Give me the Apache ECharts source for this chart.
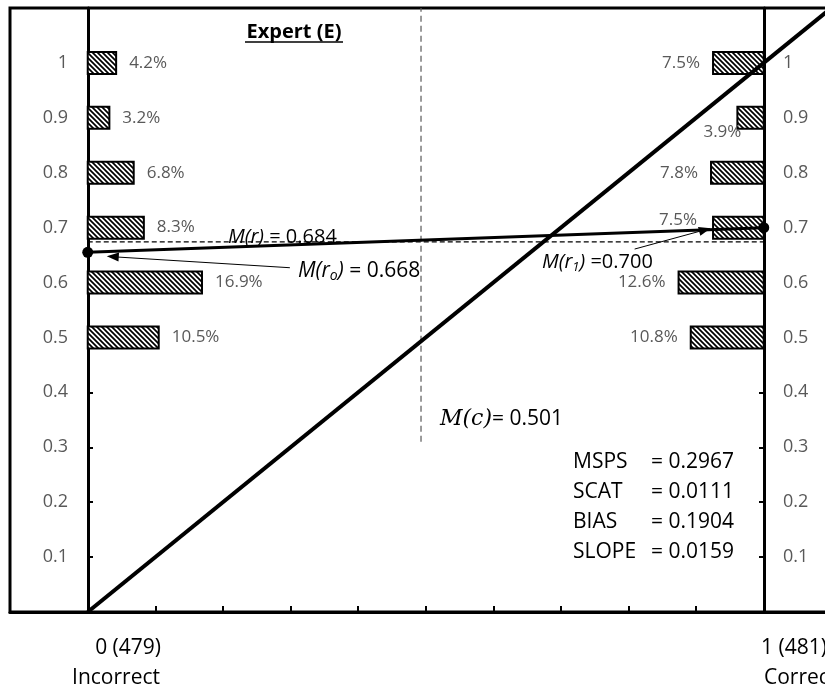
<!DOCTYPE html>
<html>
<head>
<meta charset="utf-8">
<script src="https://cdn.jsdelivr.net/npm/echarts@6/dist/echarts.min.js"></script>
<style>
  html, body { margin: 0; padding: 0; background: #fff; }
  #main { width: 825px; height: 691px; }
</style>
</head>
<body>
<div id="main"></div>
<script>
"use strict";
// forecast probability levels that carry a bar
const probLevels = [1, 0.9, 0.8, 0.7, 0.6, 0.5];
// share of forecasts (%) at each level, outcome 0 and outcome 1
const incorrectPct = [4.2, 3.2, 6.8, 8.3, 16.9, 10.5];
const correctPct = [7.5, 3.9, 7.8, 7.5, 12.6, 10.8];
// axis ticks
const yTickValues = [0.1, 0.2, 0.3, 0.4, 0.5, 0.6, 0.7, 0.8, 0.9, 1];
const xTickValues = [0.1, 0.2, 0.3, 0.4, 0.5, 0.6, 0.7, 0.8, 0.9];
const xCatLabels = ['0 (479)', '1 (481)'];
const xCatNames = ['Incorrect', 'Correct'];
// means as drawn
const meanR0 = 0.655;
const meanR1 = 0.700;
const meanR = 0.674;
const meanC = 0.493;
const meanCLow = 0.31;
// stats block
const statNames = ['MSPS', 'SCAT', 'BIAS', 'SLOPE'];
const statValues = ['0.2967', '0.0111', '0.1904', '0.0159'];

const GRAY = '#595959';
const FONT = '"Open Sans", sans-serif';

// hatch fill for the bars
function makeHatch() {
    const s = 5;
    const c = document.createElement('canvas');
    c.width = s; c.height = s;
    const g = c.getContext('2d');
    g.fillStyle = '#fff';
    g.fillRect(0, 0, s, s);
    g.strokeStyle = '#000';
    g.lineWidth = 1.7;
    g.beginPath();
    g.moveTo(-1, -1); g.lineTo(s + 1, s + 1);
    g.moveTo(-1, s - 1); g.lineTo(1, s + 1);
    g.moveTo(s - 1, -1); g.lineTo(s + 1, 1);
    g.stroke();
    return c;
}
const hatch = { image: makeHatch(), repeat: 'repeat' };

let barData = [];
for (let i = 0; i < probLevels.length; i++) {
    barData.push([probLevels[i], incorrectPct[i], 0, i]);
    barData.push([probLevels[i], correctPct[i], 1, i]);
}
// label nudges for the two crowded right-side labels
const labelNudge = { '1:1': [17, 14], '1:3': [-3, -7] };

function renderBar(params, api) {
    const y = api.value(0), p = api.value(1) / 100, side = api.value(2), idx = api.value(3);
    const x0 = side === 0 ? 0 : 1 - p;
    const x1 = side === 0 ? p : 1;
    const a = api.coord([x0, y]);
    const b = api.coord([x1, y]);
    const h = 22;
    const nudge = labelNudge[side + ':' + idx] || [0, 0];
    const tx = side === 0 ? b[0] + 13 : a[0] - 13;
    return {
        type: 'group',
        children: [{
            type: 'rect',
            shape: { x: a[0], y: a[1] - h / 2, width: b[0] - a[0], height: h },
            style: { fill: hatch, stroke: '#000', lineWidth: 2 }
        }, {
            type: 'text',
            x: tx + nudge[0],
            y: a[1] + nudge[1],
            style: {
                text: api.value(1).toFixed(1) + '%',
                fill: GRAY, font: '17px ' + FONT,
                align: side === 0 ? 'left' : 'right', verticalAlign: 'middle'
            }
        }]
    };
}

function yLabel(v) {
    if (v < 0.05 || v > 1.05) return '';
    return String(parseFloat(v.toFixed(1)));
}

let myChart = echarts.init(document.getElementById('main'));

const italic = { fontStyle: 'italic', fontSize: 20, fontFamily: FONT, fill: '#000' };
const plain = { fontSize: 20, fontFamily: FONT, fill: '#000' };

let graphics = [
    { type: 'text', x: 294, y: 32, style: { text: 'Expert (E)', font: 'bold 20px ' + FONT, fill: '#000', align: 'center', verticalAlign: 'middle' } },
    { type: 'line', shape: { x1: 245, y1: 42, x2: 343, y2: 42 }, style: { stroke: '#000', lineWidth: 1.5 } },
    { type: 'text', x: 228, y: 237, style: { text: '{i|M(r)}{n| = 0.684}', verticalAlign: 'middle', rich: { i: italic, n: plain } } },
    { type: 'text', x: 298, y: 271, style: { text: '{i|M(r}{s|o}{i|)}{n| = 0.668}', verticalAlign: 'middle',
        rich: { i: Object.assign({}, italic, { fontSize: 21 }), s: { fontStyle: 'italic', fontSize: 14, fontFamily: FONT, padding: [10, 0, 0, 0] }, n: Object.assign({}, plain, { fontSize: 21 }) } } },
    { type: 'text', x: 542, y: 262, style: { text: '{i|M(r}{s|1}{i|)}{n| =0.700}', verticalAlign: 'middle',
        rich: { i: italic, s: { fontStyle: 'italic', fontSize: 13, fontFamily: FONT, padding: [10, 0, 0, 0] }, n: plain } } },
    { type: 'text', x: 440, y: 419, style: { text: '{i|M(c)}{n|= 0.501}', verticalAlign: 'middle',
        rich: { i: { fontStyle: 'italic', fontSize: 22, fontFamily: '"DejaVu Serif", serif', fill: '#000' }, n: { fontSize: 21, fontFamily: FONT, fill: '#000' } } } }
];
for (let i = 0; i < statNames.length; i++) {
    graphics.push({ type: 'text', x: 573, y: 462 + i * 30, style: { text: statNames[i], font: '21px ' + FONT, fill: '#000', verticalAlign: 'middle' } });
    graphics.push({ type: 'text', x: 651, y: 462 + i * 30, style: { text: '= ' + statValues[i], font: '21px ' + FONT, fill: '#000', verticalAlign: 'middle' } });
}
graphics.push({ type: 'text', x: 161, y: 648, style: { text: xCatLabels[0], font: '21px ' + FONT, fill: '#000', align: 'right', verticalAlign: 'middle' } });
graphics.push({ type: 'text', x: 160, y: 678, style: { text: xCatNames[0], font: '21px ' + FONT, fill: '#000', align: 'right', verticalAlign: 'middle' } });
graphics.push({ type: 'text', x: 761, y: 648, style: { text: xCatLabels[1], font: '21px ' + FONT, fill: '#000', align: 'left', verticalAlign: 'middle' } });
graphics.push({ type: 'text', x: 764, y: 678, style: { text: xCatNames[1], font: '21px ' + FONT, fill: '#000', align: 'left', verticalAlign: 'middle' } });

const yAxisBase = {
    type: 'value', min: 0, max: 1.1, interval: 0.1,
    splitLine: { show: false },
    axisLine: { show: true, onZero: false, lineStyle: { color: '#000', width: 3 } },
    axisTick: { show: true, inside: true, length: 5, lineStyle: { color: '#000', width: 2 } },
    axisLabel: { color: GRAY, fontSize: 18, fontFamily: FONT, margin: 20, formatter: yLabel }
};

let option = {
    animation: false,
    backgroundColor: '#fff',
    grid: { left: 10, top: 8, width: 820, height: 604, outerBoundsMode: 'none', containLabel: false,
        show: true, borderColor: '#000', borderWidth: 3, backgroundColor: 'transparent' },
    xAxis: {
        type: 'value', min: -0.115, max: 1.098,
        splitLine: { show: false },
        axisLine: { onZero: false, lineStyle: { color: '#000', width: 3 } },
        axisTick: { show: true, inside: true, length: 6, customValues: xTickValues, lineStyle: { color: '#000', width: 2 } },
        axisLabel: { show: false }
    },
    yAxis: [
        Object.assign({}, yAxisBase, { position: 'left', offset: -78 }),
        Object.assign({}, yAxisBase, { position: 'right', offset: -66, axisLabel: Object.assign({}, yAxisBase.axisLabel, { margin: 19 }) })
    ],
    graphic: graphics,
    series: [
        {
            type: 'line', z: 2, symbol: 'none', silent: true,
            data: [[0, meanR], [1, meanR]],
            lineStyle: { color: '#000', width: 1.2, type: [5, 3] },
            markLine: {
                silent: true, symbol: ['none', 'triangle'], symbolSize: [9, 12], label: { show: false },
                lineStyle: { color: '#000', width: 1, type: 'solid' },
                data: [
                    [{ coord: [0.299, 0.627] }, { coord: [0.037, 0.647] }],
                    [{ coord: [0.809, 0.661] }, { coord: [0.913, 0.696] }]
                ]
            }
        },
        {
            type: 'line', z: 2, symbol: 'none', silent: true,
            data: [[meanC, meanCLow], [meanC, 1.1]],
            lineStyle: { color: GRAY, width: 1.2, type: [6, 4] }
        },
        {
            type: 'custom', z: 3, renderItem: renderBar, data: barData, silent: true
        },
        {
            type: 'line', z: 4, symbol: 'none', silent: true,
            data: [[0, 0], [1.1, 1.1]],
            lineStyle: { color: '#000', width: 4 }
        },
        {
            type: 'line', z: 5, symbol: 'circle', symbolSize: 11, silent: true,
            data: [[0, meanR0], [1, meanR1]],
            itemStyle: { color: '#000' },
            lineStyle: { color: '#000', width: 3 }
        }
    ]
};
myChart.setOption(option);
</script>
</body>
</html>
